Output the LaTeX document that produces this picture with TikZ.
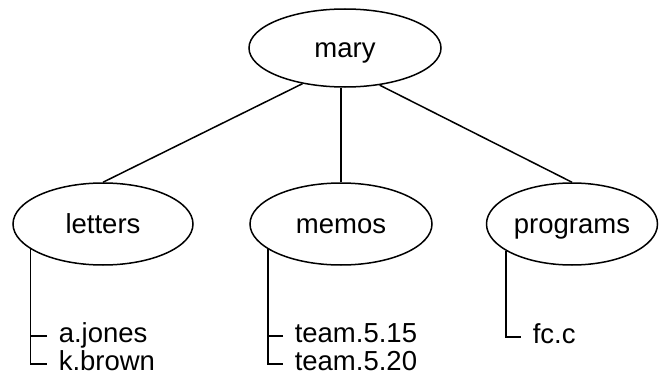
\documentclass[tikz,border=0pt]{standalone}
\usepackage{fontspec}
\setmainfont{Liberation Sans}
\usetikzlibrary{shapes.geometric}
\tikzset{
    dir/.style={draw, ellipse, inner sep=0pt, minimum height=82pt, text height=24pt, text depth=6pt},
    leaf/.style={anchor=west, inner xsep=11pt, inner ysep=0pt, text height=16pt, text depth=4pt}
}

\begin{document}
\begin{tikzpicture}[x=1pt, y=1pt, line width=1.5pt, font=\fontsize{27.5}{30}\selectfont]
\useasboundingbox (0,0) rectangle (659,376);
\node[dir, minimum width=192pt, minimum height=78pt] (mary) at (345,328) {mary};
\foreach \x/\w/\p in {103/180/letters, 341/182/memos, 572/171/programs}{
    \node[dir, minimum width=\w pt] (\p) at (\x,152) {\p};
}
\node[leaf] (ajones) at (47,40) {a.jones};
\node[leaf] (kbrown) at (47,12) {k.brown};
\node[leaf] (team515) at (283,40) {team.5.15};
\node[leaf] (team520) at (283,12) {team.5.20};
\node[leaf] (fcc) at (521,39) {fc.c};
\draw (mary.220) -- (letters.north);
\draw (memos) -- (memos |- mary.south);
\draw (mary.313) -- (programs.north);
\draw (letters.199) |- (kbrown.west);
\draw (ajones.west) -- (ajones.west -| letters.199);
\draw (memos.199) |- (team520.west);
\draw (team515.west) -- (team515.west -| memos.199);
\draw (programs.202) |- (fcc.west);
\end{tikzpicture}
\end{document}
